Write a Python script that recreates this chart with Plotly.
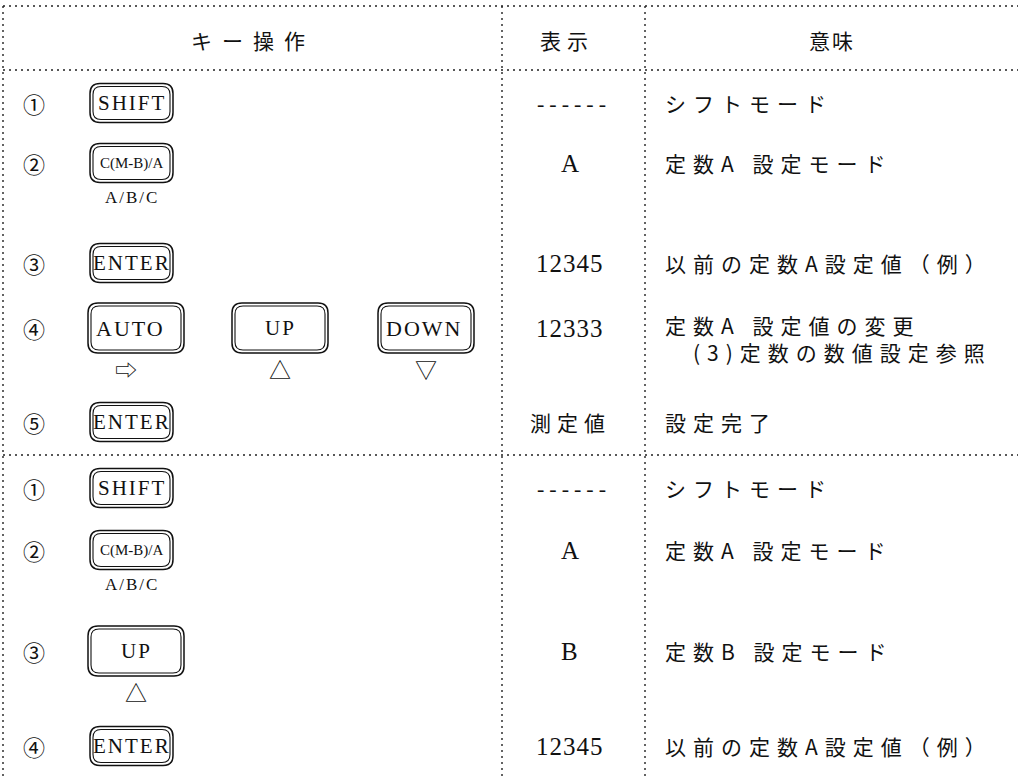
import plotly.graph_objects as go

W, H = 1018, 776

# ---------------- data ----------------
headers = ["キー操作", "表示", "意味"]
step_nums = ["①", "②", "③", "④", "⑤", "①", "②", "③", "④"]
key_labels = [["SHIFT"], ["C(M-B)/A"], ["ENTER"], ["AUTO", "UP", "DOWN"], ["ENTER"],
              ["SHIFT"], ["C(M-B)/A"], ["UP"], ["ENTER"]]
key_marks = [[""], ["A/B/C"], [""], ["⇨", "△", "▽"], [""],
             [""], ["A/B/C"], ["△"], [""]]
display_vals = ["------", "A", "12345", "12333", "測定値",
                "------", "A", "B", "12345"]
meanings = ["シフトモード", "定数A 設定モード", "以前の定数A設定値（例）", "定数A 設定値の変更", "設定完了",
            "シフトモード", "定数A 設定モード", "定数B 設定モード", "以前の定数A設定値（例）"]
meaning_notes = ["", "", "", "(3)定数の数値設定参照", "", "", "", "", ""]

# ---------------- layout geometry ----------------
row_y = [103, 163, 263, 328, 422, 488, 550, 651, 746]
key_x = [[90], [90], [90], [88, 232, 378], [90], [90], [90], [88], [90]]
col_lines_x = [3, 502, 645]
h_lines_y = [6, 70, 455]
header_x = [253, 567, 832]
header_y = 40
num_x = 34
disp_x = 570
mean_x = 663

JP = "Noto Sans CJK JP"
SERIF = "Liberation Serif"
INK = "#111111"


def rr_path(x0, y0, x1, y1, r):
    return (f"M {x0+r},{y0} L {x1-r},{y0} Q {x1},{y0} {x1},{y0+r} "
            f"L {x1},{y1-r} Q {x1},{y1} {x1-r},{y1} L {x0+r},{y1} "
            f"Q {x0},{y1} {x0},{y1-r} L {x0},{y0+r} Q {x0},{y0} {x0+r},{y0} Z")


def spaced(s, px):
    return f'<span style="letter-spacing:{px}px">{s}</span>'


fig = go.Figure()
fig.add_trace(go.Scatter(x=[0, W], y=[0, H], mode="markers",
                         marker=dict(opacity=0), hoverinfo="skip", showlegend=False))

shapes = []
annotations = []

dot = "2px,4px"
for y in h_lines_y:
    shapes.append(dict(type="line", x0=col_lines_x[0], x1=W, y0=y, y1=y,
                       line=dict(color="#222", width=1.4, dash=dot)))
for x in col_lines_x:
    shapes.append(dict(type="line", x0=x, x1=x, y0=h_lines_y[0], y1=H,
                       line=dict(color="#222", width=1.4, dash=dot)))


def txt(x, y, s, size, family=JP, xanchor="center"):
    annotations.append(dict(x=x, y=y, text=s, showarrow=False, xanchor=xanchor,
                            yanchor="middle", align="left",
                            font=dict(family=family, size=size, color=INK)))


# headers
txt(header_x[0], header_y, spaced(headers[0], 10), 21)
txt(header_x[1], header_y, spaced(headers[1], 6), 21)
txt(header_x[2], header_y, spaced(headers[2], 2), 21)

for i, y in enumerate(row_y):
    txt(num_x, y, step_nums[i], 22)
    for j, lab in enumerate(key_labels[i]):
        big = lab in ("AUTO", "UP", "DOWN")
        w, h = (96, 50) if big else (83, 39)
        x0 = key_x[i][j]
        y0 = y - h / 2
        shapes.append(dict(type="path", path=rr_path(x0, y0, x0 + w, y0 + h, 10),
                           line=dict(color=INK, width=1.5)))
        shapes.append(dict(type="path", path=rr_path(x0 + 3, y0 + 3, x0 + w - 3, y0 + h - 3, 8),
                           line=dict(color=INK, width=1.1)))
        if len(lab) > 6:
            txt(x0 + w / 2, y, lab, 15, SERIF)
        elif big and lab != "UP":
            txt(x0 + 6, y, spaced(lab, 2), 22, SERIF, xanchor="left")
        else:
            txt(x0 + w / 2, y, spaced(lab, 2), 21, SERIF)
        mk = key_marks[i][j]
        if mk:
            if mk == "A/B/C":
                txt(x0 + w / 2, y0 + h + 15, spaced(mk, 2), 17, SERIF)
            else:
                txt(x0 + w / 2 - (10 if mk == "⇨" else 0), y0 + h + 15, mk, 22)
    # display column
    dv = display_vals[i]
    if dv.startswith("-"):
        txt(disp_x + 4, y, spaced(dv, 5), 22, SERIF)
    elif all(ord(c) < 128 for c in dv):
        txt(disp_x, y, spaced(dv, 1), 25, SERIF)
    else:
        txt(disp_x, y, spaced(dv, 6), 21)
    # meaning column
    if meaning_notes[i]:
        txt(mean_x, y + 10, spaced(meanings[i] + "<br>\u3000" + meaning_notes[i], 7), 21, xanchor="left")
    else:
        txt(mean_x, y, spaced(meanings[i], 7), 21, xanchor="left")

fig.update_layout(
    width=W, height=H,
    margin=dict(l=0, r=0, t=0, b=0),
    paper_bgcolor="white", plot_bgcolor="white",
    xaxis=dict(range=[0, W], visible=False, fixedrange=True),
    yaxis=dict(range=[H, 0], visible=False, fixedrange=True),
    shapes=shapes, annotations=annotations,
)

fig.write_html("out.html", config={"displayModeBar": False},
               post_script="document.body.style.margin='0px';")
